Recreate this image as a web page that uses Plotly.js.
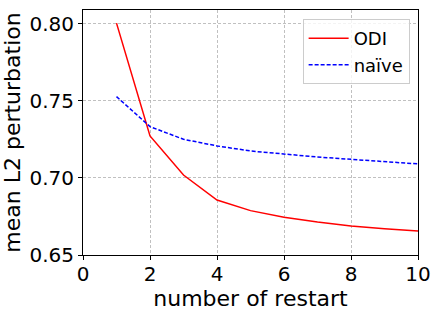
<!DOCTYPE html>
<html><head><meta charset="utf-8">
<script src="https://cdn.plot.ly/plotly-3.0.1.min.js"></script>
<style>body{margin:0;padding:0;background:#fff}#chart{width:437px;height:312px}</style>
</head><body><div id="chart"></div>
<script>
const restarts = [1,2,3,4,5,6,7,8,9,10];
const odi = [0.8005,0.7273,0.7019,0.6857,0.6788,0.6745,0.6714,0.6688,0.6671,0.6656];
const naive = [0.7528,0.7333,0.7251,0.7208,0.7175,0.7154,0.7136,0.7121,0.7104,0.7091];
const xTicks = [0,2,4,6,8,10];
const yTicks = [0.65,0.70,0.75,0.80];
const yTickText = ['0.65','0.70','0.75','0.80'];

const font = 'DejaVu Sans, sans-serif';
const data = [
  {x: restarts, y: odi, mode: 'lines', name: 'ODI', line: {color: 'red', width: 1.5}},
  {x: restarts, y: naive, mode: 'lines', name: 'naïve', line: {color: 'blue', width: 1.5, dash: '4px,2px'}}
];
const axisCommon = {
  showline: true, mirror: true, linecolor: 'black', linewidth: 1,
  ticks: 'outside', ticklen: 4, tickcolor: 'black', tickwidth: 1,
  showgrid: true, gridcolor: '#b0b0b0', griddash: '3px,2px', gridwidth: 0.8,
  zeroline: false, tickfont: {family: font, size: 20, color: 'black'}
};
const layout = {
  width: 437, height: 312,
  margin: {l: 83, r: 19, t: 10, b: 57},
  paper_bgcolor: 'white', plot_bgcolor: 'white',
  showlegend: true,
  legend: {x: 0.975, y: 0.963, xanchor: 'right', yanchor: 'top',
    bgcolor: 'rgba(255,255,255,0.8)', bordercolor: '#cccccc', borderwidth: 1,
    font: {family: font, size: 18, color: 'black'}, itemwidth: 40},
  xaxis: Object.assign({}, axisCommon, {range: [0,10], tickvals: xTicks, ticklabelstandoff: -3,
    title: {text: 'number of restart', font: {family: font, size: 22, color: 'black'}, standoff: 0}}),
  yaxis: Object.assign({}, axisCommon, {range: [0.65, 0.809], tickvals: yTicks, ticktext: yTickText,
    title: {text: 'mean L2 perturbation', font: {family: font, size: 22, color: 'black'}, standoff: 4}})
};
Plotly.newPlot('chart', data, layout, {displayModeBar: false, staticPlot: true});
</script></body></html>
